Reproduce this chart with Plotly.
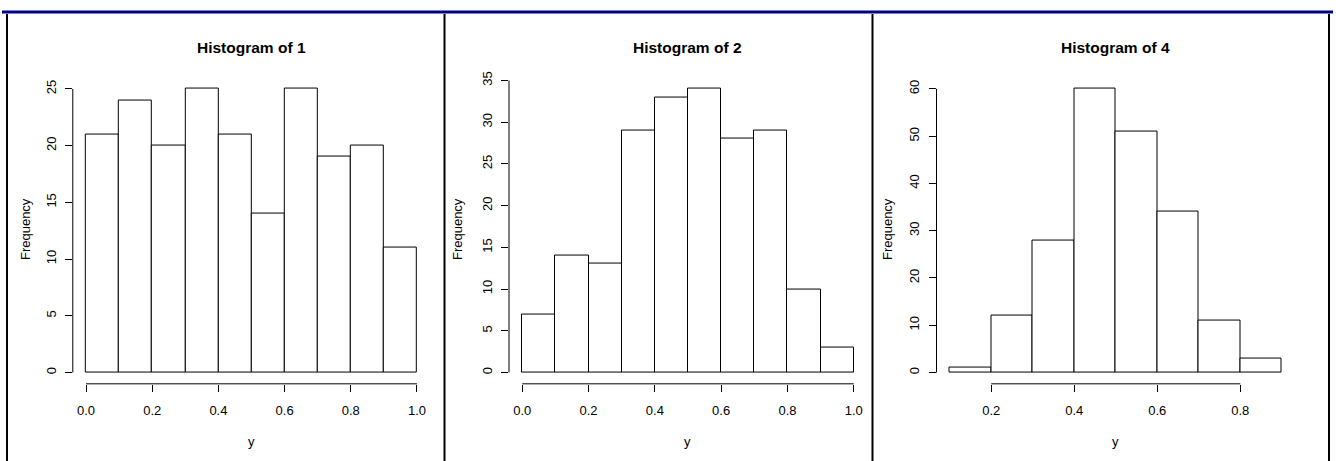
import plotly.graph_objects as go

W, H = 1336, 461

# ---------------- data ----------------
TITLES = ["Histogram of 1", "Histogram of 2", "Histogram of 4"]
X_LABEL = "y"
Y_LABEL = "Frequency"

BREAKS_1 = [0.0, 0.1, 0.2, 0.3, 0.4, 0.5, 0.6, 0.7, 0.8, 0.9, 1.0]
COUNTS_1 = [21, 24, 20, 25, 21, 14, 25, 19, 20, 11]

BREAKS_2 = [0.0, 0.1, 0.2, 0.3, 0.4, 0.5, 0.6, 0.7, 0.8, 0.9, 1.0]
COUNTS_2 = [7, 14, 13, 29, 33, 34, 28, 29, 10, 3]

BREAKS_4 = [0.1, 0.2, 0.3, 0.4, 0.5, 0.6, 0.7, 0.8, 0.9]
COUNTS_4 = [1, 12, 28, 60, 51, 34, 11, 3]

XTICKS_1 = [0.0, 0.2, 0.4, 0.6, 0.8, 1.0]
XTICKS_2 = [0.0, 0.2, 0.4, 0.6, 0.8, 1.0]
XTICKS_4 = [0.2, 0.4, 0.6, 0.8]

YTICKS_1 = [0, 5, 10, 15, 20, 25]
YTICKS_2 = [0, 5, 10, 15, 20, 25, 30, 35]
YTICKS_4 = [0, 10, 20, 30, 40, 50, 60]

panels = [
    (TITLES[0], BREAKS_1, COUNTS_1, XTICKS_1, YTICKS_1),
    (TITLES[1], BREAKS_2, COUNTS_2, XTICKS_2, YTICKS_2),
    (TITLES[2], BREAKS_4, COUNTS_4, XTICKS_4, YTICKS_4),
]

# ---------------- layout constants (pixels) ----------------
PLOT_X = [(72.8, 430.2), (509.0, 867.0), (936.5, 1295.1)]
PLOT_TOP, PLOT_BOTTOM = 72.5, 382.8
TITLE_Y = 42
XLAB_Y = 441
YLAB_X = [25, 457, 887]
YLAB_Y = 226
BORDERS_X = [7, 444.5, 872.5, 1329]

FONT = "Liberation Sans, Arial, Helvetica, sans-serif"


def px(x):
    return x / W


def py(y):
    return 1 - y / H


fig = go.Figure()
shapes = []
annotations = []

for i, (title, breaks, counts, xticks, yticks) in enumerate(panels):
    n = "" if i == 0 else str(i + 1)
    xa, ya = "x" + n, "y" + n
    mids = [(breaks[k] + breaks[k + 1]) / 2 for k in range(len(counts))]
    widths = [breaks[k + 1] - breaks[k] for k in range(len(counts))]
    fig.add_trace(go.Bar(
        x=mids, y=counts, width=widths,
        marker=dict(color="white", line=dict(color="black", width=1)),
        xaxis=xa, yaxis=ya, showlegend=False, hoverinfo="x+y",
    ))
    span = breaks[-1] - breaks[0]
    xr = [breaks[0] - 0.04 * span, breaks[-1] + 0.04 * span]
    ymax = max(counts)
    yr = [-0.04 * ymax, ymax * 1.04]

    axis_common = dict(
        showgrid=False, zeroline=False, showline=False,
        ticks="outside", ticklen=7, tickwidth=1, tickcolor="black",
        tickfont=dict(family=FONT, size=13, color="black"),
    )
    fig.update_layout(**{
        ("xaxis" + n): dict(
            domain=[px(PLOT_X[i][0]), px(PLOT_X[i][1])], range=xr,
            anchor=ya, tickvals=xticks, tickformat=".1f",
            ticklabelstandoff=8, **axis_common),
        ("yaxis" + n): dict(
            domain=[py(PLOT_BOTTOM), py(PLOT_TOP)], range=yr,
            anchor=xa, tickvals=yticks, tickangle=-90,
            ticklabelstandoff=4, **axis_common),
    })
    # R-style axis lines spanning only the tick range
    shapes.append(dict(type="line", xref=xa, yref=ya + " domain",
                       x0=min(xticks), x1=max(xticks), y0=0, y1=0,
                       line=dict(color="black", width=1)))
    shapes.append(dict(type="line", xref=xa + " domain", yref=ya,
                       x0=0, x1=0, y0=min(yticks), y1=max(yticks),
                       line=dict(color="black", width=1)))

    cx = (PLOT_X[i][0] + PLOT_X[i][1]) / 2
    annotations.append(dict(text="<b>" + title + "</b>", xref="paper", yref="paper",
                            x=px(cx), y=py(TITLE_Y), showarrow=False,
                            xanchor="center", yanchor="middle",
                            font=dict(family=FONT, size=15.5, color="black")))
    annotations.append(dict(text=X_LABEL, xref="paper", yref="paper",
                            x=px(cx), y=py(XLAB_Y), showarrow=False,
                            xanchor="center", yanchor="middle",
                            font=dict(family=FONT, size=13, color="black")))
    annotations.append(dict(text=Y_LABEL, xref="paper", yref="paper",
                            x=px(YLAB_X[i]), y=py(YLAB_Y),
                            showarrow=False, textangle=-90,
                            xanchor="center", yanchor="middle",
                            font=dict(family=FONT, size=13, color="black")))

# frame: blue top rule and vertical black separators
shapes.append(dict(type="line", xref="paper", yref="paper",
                   x0=px(2), x1=px(1333), y0=py(6), y1=py(6),
                   line=dict(color="#00008B", width=3)))
for bx in BORDERS_X:
    shapes.append(dict(type="line", xref="paper", yref="paper",
                       x0=px(bx), x1=px(bx), y0=py(8), y1=py(H),
                       line=dict(color="black", width=2)))

fig.update_layout(
    width=W, height=H, autosize=False,
    margin=dict(l=0, r=0, t=0, b=0),
    paper_bgcolor="white", plot_bgcolor="white",
    bargap=0, shapes=shapes, annotations=annotations,
    font=dict(family=FONT, color="black"),
)

fig.write_html(
    "out.html",
    config={"displayModeBar": False},
    post_script="document.body.style.margin='0';document.body.style.overflow='hidden';",
)
